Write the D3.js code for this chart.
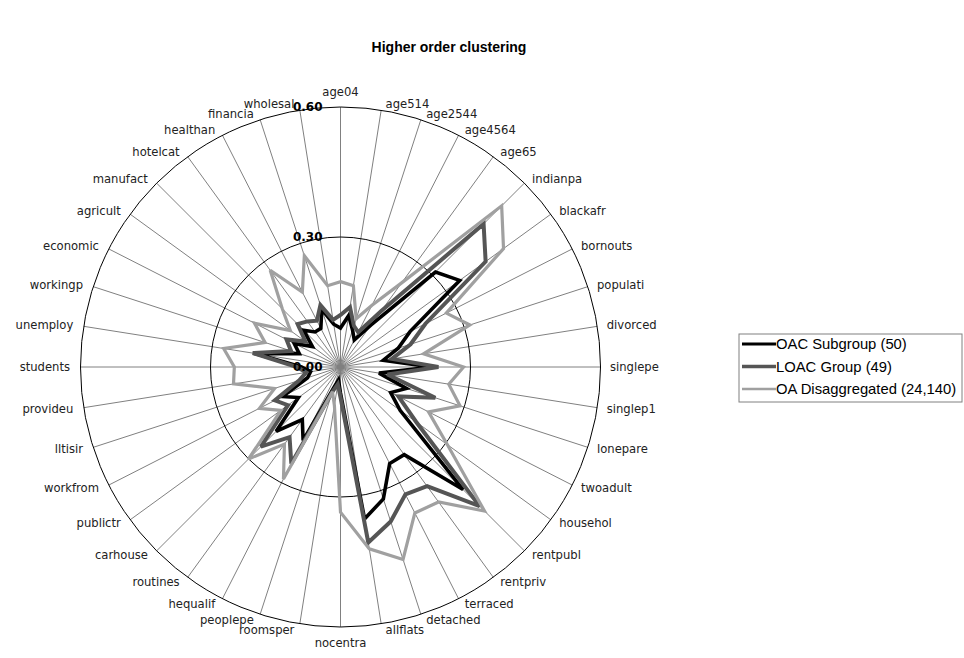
<!DOCTYPE html>
<html>
<head>
<meta charset="utf-8">
<script src="https://cdn.jsdelivr.net/npm/d3@7"></script>
<style>
  body { margin: 0; background: #fff; }
  svg { display: block; }
</style>
</head>
<body>
<svg id="chart" width="964" height="658"></svg>
<script>
// radar axes, clockwise from the top
const categories = [
  'age04', 'age514', 'age2544', 'age4564', 'age65', 'indianpa', 'blackafr', 'bornouts',
  'populati', 'divorced', 'singlepe', 'singlep1', 'lonepare', 'twoadult', 'househol',
  'rentpubl', 'rentpriv', 'terraced', 'detached', 'allflats', 'nocentra', 'roomsper',
  'peoplepe', 'hequalif', 'routines', 'carhouse', 'publictr', 'workfrom', 'lltisir',
  'provideu', 'students', 'unemploy', 'workingp', 'economic', 'agricult', 'manufact',
  'hotelcat', 'healthan', 'financia', 'wholesal'
];

const oacSubgroup = [
  0.09, 0.12, 0.09, 0.07, 0.12, 0.31, 0.34, 0.18,
  0.14, 0.10, 0.21, 0.09, 0.16, 0.13, 0.17,
  0.40, 0.25, 0.25, 0.32, 0.355, 0.06, 0.03,
  0.05, 0.19, 0.15, 0.21, 0.12, 0.15, 0.08,
  0.07, 0.09, 0.20, 0.10, 0.12, 0.08, 0.12,
  0.10, 0.10, 0.14, 0.10
];

const loacGroup = [
  0.12, 0.14, 0.10, 0.09, 0.16, 0.467, 0.414, 0.22,
  0.17, 0.12, 0.226, 0.11, 0.23, 0.15, 0.216,
  0.454, 0.34, 0.33, 0.375, 0.41, 0.07, 0.04,
  0.06, 0.25, 0.20, 0.26, 0.15, 0.17, 0.10,
  0.08, 0.10, 0.205, 0.12, 0.14, 0.10, 0.14,
  0.13, 0.12, 0.15, 0.11
];

const oaDisaggregated = [
  0.197, 0.19, 0.117, 0.16, 0.24, 0.526, 0.465, 0.274,
  0.314, 0.194, 0.284, 0.253, 0.29, 0.228, 0.305,
  0.47, 0.385, 0.378, 0.467, 0.425, 0.335, 0.09,
  0.06, 0.29, 0.22, 0.30, 0.17, 0.21, 0.16,
  0.25, 0.245, 0.273, 0.183, 0.223, 0.143, 0.19,
  0.276, 0.194, 0.27, 0.19
];

const seriesNames = ['OAC Subgroup (50)', 'LOAC Group (49)', 'OA Disaggregated (24,140)'];
const tickValues = [0, 0.3, 0.6];
const tickLabels = ['0.00', '0.30', '0.60'];

const seriesList = [
  {name: seriesNames[0], values: oacSubgroup, color: '#000000', width: 3.6, key: 3},
  {name: seriesNames[1], values: loacGroup, color: '#555555', width: 4, key: 3.5},
  {name: seriesNames[2], values: oaDisaggregated, color: '#a0a0a0', width: 3.2, key: 2.5}
];

const svg = d3.select('#chart');
const cx = 340.5, cy = 367, R = 260;

const r = d3.scaleLinear().domain([0, 0.6]).range([0, R]);
const angle = d3.scaleLinear().domain([0, categories.length]).range([0, 2 * Math.PI]);

svg.append('text')
  .attr('x', 449).attr('y', 52)
  .attr('text-anchor', 'middle')
  .style('font-family', 'Liberation Sans, Arial, sans-serif')
  .style('font-size', '14px').style('font-weight', 'bold')
  .text('Higher order clustering');

const g = svg.append('g').attr('transform', `translate(${cx},${cy})`);

// spokes
g.selectAll('line.spoke').data(categories).join('line')
  .attr('class', 'spoke')
  .attr('x1', 0).attr('y1', 0)
  .attr('x2', (d, i) => Math.sin(angle(i)) * R)
  .attr('y2', (d, i) => -Math.cos(angle(i)) * R)
  .attr('stroke', '#808080').attr('stroke-width', 1);

// grid rings
g.selectAll('circle.ring').data(tickValues.slice(1)).join('circle')
  .attr('class', 'ring')
  .attr('r', d => r(d))
  .attr('fill', 'none').attr('stroke', '#000').attr('stroke-width', 1);

// category labels
g.selectAll('text.cat').data(categories).join('text')
  .attr('class', 'cat')
  .each(function(d, i) {
    const a = angle(i), sx = Math.sin(a), cyy = -Math.cos(a);
    let x = sx * (R + 6), y = cyy * (R + 6);
    let anchor = 'middle';
    if (Math.abs(sx) < 0.01) {
      y += cyy > 0 ? 10 : -9;
    } else if (sx > 0) {
      anchor = 'start'; x += 3.5;
    } else {
      anchor = 'end'; x -= 4.5;
    }
    d3.select(this).attr('x', x).attr('y', y).attr('dy', '0.35em')
      .attr('text-anchor', anchor);
  })
  .style('font-family', 'DejaVu Sans, Verdana, sans-serif')
  .style('font-size', '11.6px').attr('fill', '#222')
  .text(d => d);

// series
const line = d3.lineRadial()
  .angle((d, i) => angle(i))
  .radius(d => r(d))
  .curve(d3.curveLinearClosed);

g.selectAll('path.series').data(seriesList).join('path')
  .attr('class', 'series')
  .attr('d', d => line(d.values))
  .attr('fill', 'none')
  .attr('stroke', d => d.color)
  .attr('stroke-width', d => d.width)
  .attr('stroke-linejoin', 'miter').attr('stroke-miterlimit', 3);

// radial axis labels
g.selectAll('text.tick').data(tickValues).join('text')
  .attr('class', 'tick')
  .attr('x', -18).attr('y', d => -r(d)).attr('dy', '0.35em')
  .attr('text-anchor', 'end')
  .style('font-family', 'DejaVu Sans, Verdana, sans-serif')
  .style('font-size', '12px').style('font-weight', 'bold')
  .text((d, i) => tickLabels[i]);

// legend
const lg = svg.append('g').attr('transform', 'translate(739,334)');
lg.append('rect').attr('width', 223).attr('height', 68)
  .attr('fill', '#fff').attr('stroke', '#808080').attr('stroke-width', 1);
const item = lg.selectAll('g.item').data(seriesList).join('g')
  .attr('class', 'item')
  .attr('transform', (d, i) => `translate(0,${10 + i * 22.5})`);
item.append('line')
  .attr('x1', 3).attr('x2', 37).attr('y1', 0).attr('y2', 0)
  .attr('stroke', d => d.color).attr('stroke-width', d => d.key);
item.append('text')
  .attr('x', 37).attr('y', 0).attr('dy', '0.36em')
  .style('font-family', 'Liberation Sans, Arial, sans-serif')
  .style('font-size', '14.8px')
  .text(d => d.name);
</script>
</body>
</html>
